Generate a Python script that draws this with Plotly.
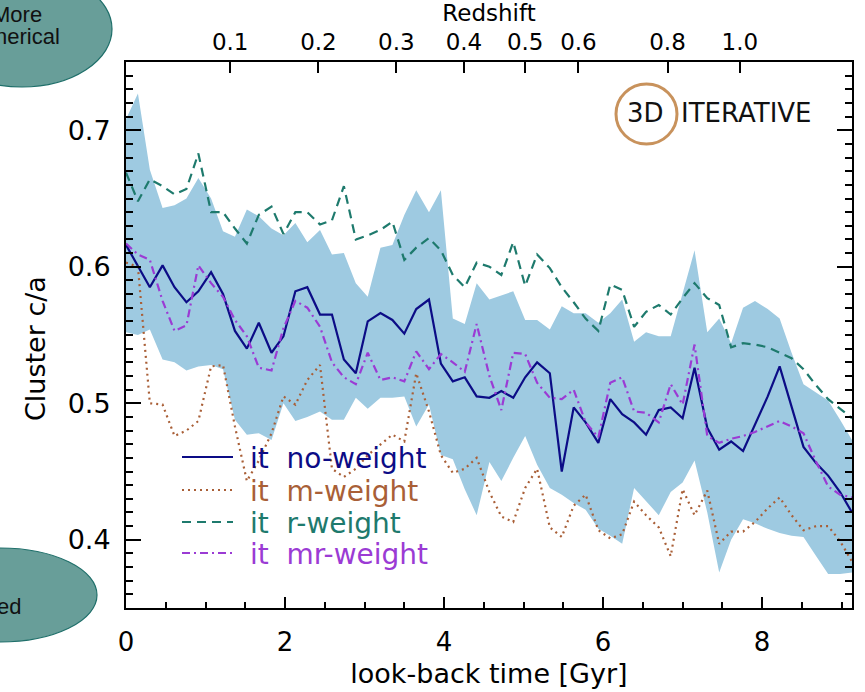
import plotly.graph_objects as go

# ---------------- data ----------------
lookback_gyr = [0.00, 0.15, 0.30, 0.46, 0.61, 0.76, 0.91, 1.07, 1.22, 1.37,
                1.52, 1.67, 1.83, 1.98, 2.13, 2.28, 2.44, 2.59, 2.74, 2.89,
                3.04, 3.20, 3.35, 3.50, 3.65, 3.81, 3.96, 4.11, 4.26, 4.41,
                4.57, 4.72, 4.87, 5.02, 5.17, 5.33, 5.48, 5.63, 5.78, 5.94,
                6.09, 6.24, 6.39, 6.54, 6.70, 6.85, 7.00, 7.15, 7.31, 7.46,
                7.61, 7.76, 7.91, 8.07, 8.22, 8.37, 8.52, 8.68, 8.83, 8.98,
                9.13]

no_weight = [0.616, 0.600, 0.585, 0.601, 0.585, 0.574, 0.582, 0.596, 0.580, 0.553,
             0.540, 0.559, 0.537, 0.549, 0.582, 0.585, 0.565, 0.565, 0.532, 0.522,
             0.560, 0.566, 0.561, 0.551, 0.569, 0.576, 0.529, 0.516, 0.519, 0.505,
             0.504, 0.509, 0.504, 0.519, 0.530, 0.522, 0.450, 0.497, 0.486, 0.471,
             0.503, 0.492, 0.486, 0.477, 0.495, 0.497, 0.489, 0.526, 0.482, 0.466,
             0.472, 0.465, 0.485, 0.505, 0.527, 0.497, 0.468, 0.456, 0.447, 0.435,
             0.420]

m_weight = [0.603, 0.600, 0.500, 0.499, 0.476, 0.480, 0.487, 0.527, 0.528, 0.483,
            0.443, 0.458, 0.478, 0.505, 0.499, 0.517, 0.528, 0.452, 0.446, 0.452,
            0.462, 0.470, 0.477, 0.472, 0.522, 0.494, 0.462, 0.449, 0.452, 0.460,
            0.435, 0.417, 0.413, 0.438, 0.452, 0.409, 0.402, 0.425, 0.433, 0.407,
            0.401, 0.404, 0.428, 0.418, 0.409, 0.388, 0.437, 0.418, 0.436, 0.397,
            0.406, 0.406, 0.413, 0.423, 0.431, 0.418, 0.407, 0.410, 0.410, 0.399,
            0.384]

r_weight = [0.669, 0.648, 0.664, 0.659, 0.653, 0.657, 0.683, 0.640, 0.640, 0.628,
            0.617, 0.638, 0.644, 0.624, 0.640, 0.640, 0.631, 0.634, 0.659, 0.620,
            0.623, 0.627, 0.633, 0.605, 0.614, 0.621, 0.612, 0.594, 0.585, 0.603,
            0.600, 0.594, 0.618, 0.586, 0.609, 0.599, 0.585, 0.574, 0.562, 0.553,
            0.587, 0.583, 0.556, 0.567, 0.572, 0.565, 0.577, 0.588, 0.577, 0.572,
            0.541, 0.544, 0.543, 0.541, 0.537, 0.533, 0.525, 0.513, 0.503, 0.496,
            0.489]

mr_weight = [0.617, 0.609, 0.605, 0.575, 0.553, 0.557, 0.601, 0.588, 0.578, 0.561,
             0.549, 0.526, 0.524, 0.555, 0.575, 0.570, 0.556, 0.530, 0.519, 0.514,
             0.537, 0.517, 0.519, 0.516, 0.538, 0.525, 0.536, 0.530, 0.523, 0.558,
             0.520, 0.495, 0.537, 0.536, 0.515, 0.504, 0.503, 0.510, 0.486, 0.475,
             0.515, 0.519, 0.494, 0.493, 0.486, 0.514, 0.499, 0.543, 0.476, 0.471,
             0.474, 0.476, 0.479, 0.483, 0.487, 0.483, 0.478, 0.457, 0.439, 0.433,
             0.431]

band_upper = [0.708, 0.727, 0.671, 0.643, 0.645, 0.650, 0.665, 0.650, 0.626, 0.622,
              0.642, 0.637, 0.628, 0.623, 0.632, 0.618, 0.627, 0.609, 0.610, 0.588,
              0.578, 0.614, 0.616, 0.638, 0.656, 0.640, 0.656, 0.562, 0.558, 0.588,
              0.576, 0.579, 0.582, 0.561, 0.561, 0.554, 0.571, 0.566, 0.566, 0.559,
              0.566, 0.576, 0.545, 0.552, 0.549, 0.549, 0.580, 0.612, 0.552, 0.562,
              0.544, 0.570, 0.575, 0.569, 0.562, 0.537, 0.514, 0.508, 0.502, 0.488,
              0.473]

band_lower = [0.552, 0.550, 0.554, 0.532, 0.530, 0.524, 0.527, 0.528, 0.525, 0.488,
              0.477, 0.478, 0.473, 0.500, 0.487, 0.490, 0.494, 0.488, 0.488, 0.504,
              0.496, 0.504, 0.504, 0.505, 0.483, 0.499, 0.462, 0.459, 0.437, 0.418,
              0.457, 0.443, 0.460, 0.476, 0.455, 0.438, 0.433, 0.427, 0.422, 0.408,
              0.403, 0.397, 0.438, 0.428, 0.418, 0.435, 0.442, 0.458, 0.420, 0.376,
              0.400, 0.415, 0.412, 0.408, 0.405, 0.403, 0.402, 0.388, 0.375, 0.375,
              0.376]

redshift_labels = ["0.1", "0.2", "0.3", "0.4", "0.5", "0.6", "0.8", "1.0"]
redshift_tick_gyr = [1.31, 2.42, 3.40, 4.25, 5.02, 5.69, 6.81, 7.72]

series_names = ["it  no-weight", "it  m-weight", "it  r-weight", "it  mr-weight"]
series_colors = ["#0c0c86", "#a95f37", "#1e7a6d", "#9b3bd4"]
series_dash = ["solid", "2px,4px", "9px,6px", "8px,4px,2px,4px"]

# ---------------- layout geometry (pixels of the 865x692 page) ----------------
W, H = 865, 692
L, R, T, B = 126, 852, 62, 608
FONT = "DejaVu Sans"


def px(x):
    return (x - L) / (R - L)


def py(y):
    return (B - y) / (B - T)


fig = go.Figure()

# shaded band
fig.add_trace(go.Scatter(x=lookback_gyr, y=band_lower, mode="lines",
                         line=dict(width=0, color="#9ecae1"),
                         showlegend=False, hoverinfo="skip"))
fig.add_trace(go.Scatter(x=lookback_gyr, y=band_upper, mode="lines",
                         line=dict(width=0, color="#9ecae1"),
                         fill="tonexty", fillcolor="#9ecae1",
                         showlegend=False, hoverinfo="skip"))

series_values = [no_weight, m_weight, r_weight, mr_weight]
for name, vals, col, dash in zip(series_names, series_values, series_colors, series_dash):
    fig.add_trace(go.Scatter(x=lookback_gyr, y=vals, mode="lines", name=name,
                             line=dict(color=col, width=2.2, dash=dash),
                             showlegend=False))

# invisible trace so the top (redshift) axis is drawn
fig.add_trace(go.Scatter(x=[lookback_gyr[0], lookback_gyr[-1]], y=[0.5, 0.5],
                         xaxis="x2", mode="lines", line=dict(width=0),
                         showlegend=False, hoverinfo="skip", opacity=0))

shapes = []
annotations = []

# manual legend
leg_rows = [457, 490, 522, 553]
for yy, name, col, dash in zip(leg_rows, series_names, series_colors, series_dash):
    shapes.append(dict(type="line", xref="paper", yref="paper",
                       x0=px(182), x1=px(233), y0=py(yy), y1=py(yy),
                       line=dict(color=col, width=2.2, dash=dash)))
    annotations.append(dict(xref="paper", yref="paper", x=px(248), y=py(yy + 1),
                            xanchor="left", yanchor="middle", showarrow=False,
                            text=name.replace("  ", "&nbsp; "),
                            font=dict(family=FONT, size=28, color=col)))

# "3D ITERATIVE" badge
cx, cy, rx, ry = 646.5, 114, 30.5, 30
shapes.append(dict(type="circle", xref="paper", yref="paper",
                   x0=px(cx - rx), x1=px(cx + rx), y0=py(cy + ry), y1=py(cy - ry),
                   line=dict(color="#c8925c", width=3)))
annotations.append(dict(xref="paper", yref="paper", x=px(645), y=py(113),
                        xanchor="center", yanchor="middle", showarrow=False,
                        text="3D", font=dict(family=FONT, size=26, color="#111111")))
annotations.append(dict(xref="paper", yref="paper", x=px(679), y=py(113),
                        xanchor="left", yanchor="middle", showarrow=False,
                        text="ITERATIVE", font=dict(family=FONT, size=26, color="#111111")))

# y-axis title placed as an annotation for exact placement
annotations.append(dict(xref="paper", yref="paper", x=px(35), y=py(349),
                        xanchor="center", yanchor="middle", showarrow=False,
                        textangle=-90, text="Cluster c/a",
                        font=dict(family=FONT, size=27, color="black")))

# slide decorations (ellipses cut by the page border)
for (ecx, ecy, erx, ery) in [(22, 29, 90, 58), (0, 595, 97, 47)]:
    shapes.append(dict(type="circle", xref="paper", yref="paper",
                       x0=px(ecx - erx), x1=px(ecx + erx),
                       y0=py(ecy + ery), y1=py(ecy - ery),
                       fillcolor="#689e99", line=dict(color="#1f6f6a", width=1.2),
                       layer="above"))
for txt, xr, yc in [("More", 44, 14), ("nerical", 62, 37), ("ed", 23, 606)]:
    annotations.append(dict(xref="paper", yref="paper", x=px(xr), y=py(yc),
                            xanchor="right", yanchor="middle", showarrow=False,
                            text=txt, font=dict(family="Liberation Sans", size=22,
                                                color="#111111")))

axis_common = dict(showgrid=False, zeroline=False, linecolor="black", linewidth=2,
                   tickcolor="black", tickwidth=2, ticks="inside")

fig.update_layout(
    width=W, height=H,
    margin=dict(l=L, r=W - R, t=T, b=H - B, autoexpand=False),
    paper_bgcolor="white", plot_bgcolor="white",
    showlegend=False,
    xaxis=dict(range=[0, 9.13], tick0=0, dtick=2, ticklen=11, mirror=True,
               tickfont=dict(family=FONT, size=26, color="black"),
               ticklabelstandoff=10,
               minor=dict(dtick=0.5, ticklen=6, tickwidth=1.5, ticks="inside",
                          tickcolor="black", showgrid=False),
               title=dict(text="look-back time [Gyr]", standoff=8,
                          font=dict(family=FONT, size=27, color="black")),
               automargin=False, **axis_common),
    xaxis2=dict(range=[0, 9.13], overlaying="x", side="top", anchor="y",
                tickvals=redshift_tick_gyr, ticktext=redshift_labels,
                ticklen=11, showline=False,
                tickfont=dict(family=FONT, size=23, color="black"),
                ticklabelstandoff=6,
                title=dict(text="Redshift", standoff=2,
                           font=dict(family=FONT, size=23, color="black")),
                automargin=False,
                showgrid=False, zeroline=False, tickcolor="black", tickwidth=2,
                ticks="inside"),
    yaxis=dict(range=[0.35, 0.75], tick0=0, dtick=0.1, tickformat=".1f",
               ticklen=15, mirror="ticks",
               tickfont=dict(family=FONT, size=27, color="black"),
               ticklabelstandoff=8,
               minor=dict(dtick=0.01, ticklen=7, tickwidth=1.5, ticks="inside",
                          tickcolor="black", showgrid=False),
               automargin=False, **axis_common),
    shapes=shapes,
    annotations=annotations,
)

fig.write_html("out.html")
